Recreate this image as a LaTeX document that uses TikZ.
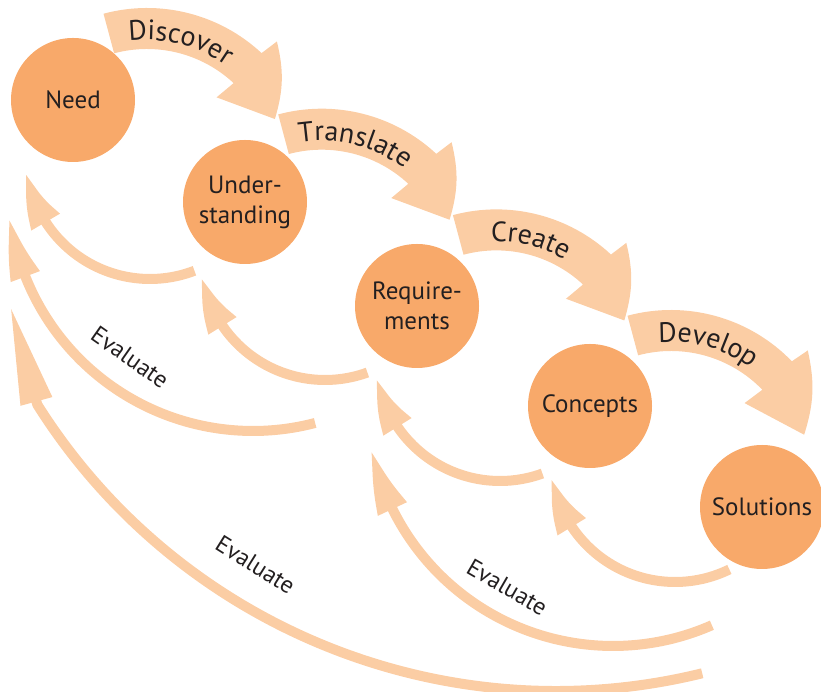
\documentclass[tikz,border=0pt]{standalone}
\usepackage{fontspec}
\setmainfont{PT Sans}
\usepackage{tikz}
\usetikzlibrary{arrows.meta, bending, calc, decorations.text}
\definecolor{stageorange}{RGB}{248,169,106}
\definecolor{flowpeach}{RGB}{251,205,164}
\definecolor{labelgray}{RGB}{35,31,32}
\newcommand{\stagefont}{\fontsize{25}{30}\selectfont}
\newcommand{\flowfont}{\fontsize{28}{32}\selectfont}
\newcommand{\evalfont}{\fontsize{24}{28}\selectfont}
\tikzset{
    stage/.style={circle, fill=stageorange, minimum size=124pt, inner sep=0pt,
        text=labelgray, align=center, font=\stagefont},
    flow/.style={fill=flowpeach},
    back/.style={draw=flowpeach, line width=10pt, line join=round,
        -{Triangle[length=54pt, width=30pt, bend]}},
    flowtext/.style={decorate, decoration={text along path, text align=center,
        text color=labelgray}},
    evallabel/.style={text=labelgray, font=\evalfont, inner sep=0pt}
}
% #1 centre, #2 head base angle, #3 tip angle, #4 label
\newcommand{\flowarrow}[4]{%
  \fill[flow] ($(#1)+(105:168)$) arc[start angle=105, end angle=#2, radius=168]
    -- ($(#1)+(#2-1:187)$) to[bend left=15] ($(#1)+(#3:140)$)
    -- ($(#1)+(#2+1.5:105)$) -- ($(#1)+(#2:127)$)
    arc[start angle=#2, end angle=105, radius=127] -- cycle;
  \path[flowtext, decoration={text={|\flowfont|#4}}]
    ($(#1)+(105:136)$) arc[start angle=105, end angle=#2, radius=136];
}

\begin{document}
\begin{tikzpicture}[x=1pt, y=1pt]
\useasboundingbox (0,0) rectangle (821,692);
\coordinate (discc)  at (147,516);
\coordinate (transc) at (321.7,415.3);
\coordinate (creac)  at (496.4,314.6);
\coordinate (develc) at (671,214);
\flowarrow{discc}{47}{24}{Discover}
\flowarrow{transc}{47}{24}{Translate}
\flowarrow{creac}{47}{24}{Create}
\flowarrow{develc}{44}{18}{Develop}

\node[stage] (need)      at (73,592)  {Need};
\node[stage] (underst)   at (245,490) {Under-\\standing};
\node[stage] (requir)    at (417,386) {Require-\\ments};
\node[stage] (concepts)  at (590,286) {Concepts};
\node[stage] (solutions) at (762,185) {Solutions};

% short feedback arrows
\coordinate (back1) at (150,537);
\coordinate (back2) at (325,436);
\coordinate (back3) at (500,335);
\coordinate (back4) at (675,234);
\coordinate (tail1) at ($(back1)+(-69:124)$);
\coordinate (tail2) at ($(back2)+(-70:124)$);
\coordinate (tail3) at ($(back3)+(-70:124)$);
\coordinate (tail4) at ($(back4)+(-64:124)$);
\draw[back] (tail1) arc[start angle=-69, end angle=-172, radius=124];
\draw[back] (tail2) arc[start angle=-70, end angle=-170.5, radius=124];
\draw[back] (tail3) arc[start angle=-70, end angle=-170.5, radius=124];
\draw[back] (tail4) arc[start angle=-64, end angle=-171, radius=124];

% evaluate arrows
\coordinate (eval1) at (253,506);
\coordinate (eval2) at (613,292);
\coordinate (eval3) at (556,614);
\coordinate (etail1) at ($(eval1)+(-75.3:245)$);
\coordinate (etail2) at ($(eval2)+(-66.3:246)$);
\coordinate (etail3) at ($(eval3)+(-76.2:613)$);
\coordinate (etip3) at (10,387);
\draw[back, -{Triangle[length=62pt, width=28pt, bend]}]
    (etail1) arc[start angle=-75.3, end angle=-172.7, radius=245];
\draw[back, -{Triangle[length=64pt, width=29pt, bend]}]
    (etail2) arc[start angle=-66.3, end angle=-168.5, radius=246];
\draw[back, -{Triangle[length=100pt, width=30pt]}]
    (etail3) arc[start angle=-76.2, end angle=-147.8, radius=613] -- (etip3);
\node[evallabel, rotate=-35] (evaltext1) at ($(eval1)+(-125.7:211)$) {Evaluate};
\node[evallabel, rotate=-30] (evaltext2) at ($(eval2)+(-119.5:215)$) {Evaluate};
\node[evallabel, rotate=-32] (evaltext3) at ($(eval3)+(-121.7:572)$) {Evaluate};
\end{tikzpicture}
\end{document}
